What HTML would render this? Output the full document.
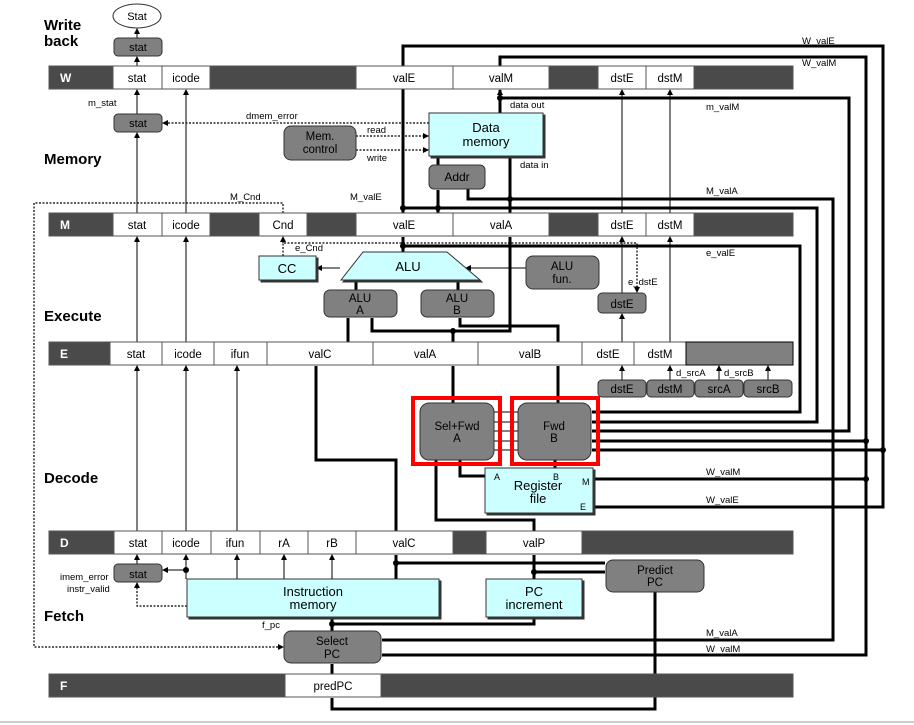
<!DOCTYPE html>
<html><head><meta charset="utf-8"><style>
html,body{margin:0;padding:0;background:#fff;}
svg{display:block;font-family:"Liberation Sans",Arial,sans-serif;}
</style></head><body>
<svg width="914" height="725" viewBox="0 0 914 725" xmlns="http://www.w3.org/2000/svg">
<defs>
<marker id="a" markerWidth="6" markerHeight="6" refX="5" refY="3" orient="auto" markerUnits="userSpaceOnUse"><path d="M0,0 L6,3 L0,6 z" fill="#000"/></marker>
</defs>
<rect width="914" height="725" fill="#fff"/>
<line x1="0" y1="722" x2="914" y2="722" stroke="#ccc" stroke-width="2"/>

<!-- stage labels -->
<g font-weight="bold" font-size="15" fill="#000">
<text x="44" y="30">Write</text><text x="44" y="46">back</text>
<text x="44" y="164">Memory</text>
<text x="44" y="321">Execute</text>
<text x="44" y="483">Decode</text>
<text x="44" y="621">Fetch</text>
</g>

<!-- wires (drawn first) -->
<g fill="none" stroke="#000">
<!-- thin -->
<g stroke-width="1">
<line x1="137" y1="38" x2="137" y2="29" marker-end="url(#a)"/>
<line x1="137" y1="66" x2="137" y2="57" marker-end="url(#a)"/>
<line x1="137" y1="114" x2="137" y2="90" marker-end="url(#a)"/>
<line x1="137" y1="213" x2="137" y2="133" marker-end="url(#a)"/>
<line x1="186" y1="213" x2="186" y2="90" marker-end="url(#a)"/>
<line x1="622" y1="213" x2="622" y2="90" marker-end="url(#a)"/>
<line x1="670" y1="213" x2="670" y2="90" marker-end="url(#a)"/>
<line x1="137" y1="342" x2="137" y2="237" marker-end="url(#a)"/>
<line x1="186" y1="342" x2="186" y2="237" marker-end="url(#a)"/>
<line x1="622" y1="293" x2="622" y2="237" marker-end="url(#a)"/>
<line x1="670" y1="342" x2="670" y2="237" marker-end="url(#a)"/>
<line x1="622" y1="342" x2="622" y2="314" marker-end="url(#a)"/>
<line x1="340" y1="268" x2="317" y2="268" marker-end="url(#a)"/>
<line x1="526" y1="268" x2="466" y2="268" marker-end="url(#a)"/>
<line x1="137" y1="531" x2="137" y2="366" marker-end="url(#a)"/>
<line x1="186" y1="531" x2="186" y2="366" marker-end="url(#a)"/>
<line x1="237" y1="531" x2="237" y2="366" marker-end="url(#a)"/>
<line x1="622" y1="380" x2="622" y2="366" marker-end="url(#a)"/>
<line x1="670" y1="380" x2="670" y2="366" marker-end="url(#a)"/>
<line x1="719" y1="380" x2="719" y2="366" marker-end="url(#a)"/>
<line x1="768" y1="380" x2="768" y2="366" marker-end="url(#a)"/>
<line x1="137" y1="564" x2="137" y2="555" marker-end="url(#a)"/>
<line x1="186" y1="579" x2="186" y2="555" marker-end="url(#a)"/>
<line x1="186" y1="570" x2="163" y2="570" marker-end="url(#a)"/>
<line x1="237" y1="579" x2="237" y2="555" marker-end="url(#a)"/>
<line x1="284" y1="579" x2="284" y2="555" marker-end="url(#a)"/>
<line x1="332" y1="579" x2="332" y2="555" marker-end="url(#a)"/>
<line x1="494" y1="412" x2="518" y2="412"/><line x1="494" y1="422" x2="518" y2="422"/><line x1="494" y1="431" x2="518" y2="431"/><line x1="494" y1="441" x2="518" y2="441"/><line x1="494" y1="450" x2="518" y2="450"/>
</g>
<!-- dotted -->
<g stroke-width="1.2" stroke-dasharray="2,1.5">
<line x1="429" y1="123" x2="163" y2="123" marker-end="url(#a)"/>
<line x1="356" y1="136" x2="428" y2="136" marker-end="url(#a)"/>
<line x1="356" y1="150" x2="428" y2="150" marker-end="url(#a)"/>
<polyline points="283,213 283,203 34,203 34,647 283,647" marker-end="url(#a)"/>
<polyline points="283,256 283,243 637,243 637,292" marker-end="url(#a)"/>
<line x1="283" y1="243" x2="283" y2="237" marker-end="url(#a)"/>
<polyline points="187,606 137,606 137,583" marker-end="url(#a)"/>
</g>
<!-- thick -->
<g stroke-width="3">
<polyline points="403,213 403,46 883,46 883,507 594,507"/>
<polyline points="500,66 500,57 866,57 866,655 382,655"/>
<line x1="500" y1="113" x2="500" y2="90" marker-end="url(#a)"/>
<polyline points="500,98 849,98 849,431 592,431"/>
<line x1="438" y1="213" x2="438" y2="190"/>
<polyline points="468,189 468,199 833,199 833,640 382,640"/>
<line x1="510" y1="213" x2="510" y2="157"/>
<polyline points="403,208 817,208 817,422 592,422"/>
<polyline points="403,246 800,246 800,412 592,412"/>
<line x1="403" y1="252" x2="403" y2="237"/>
<line x1="438" y1="165" x2="438" y2="157"/>
<line x1="356" y1="290" x2="356" y2="280"/>
<line x1="458" y1="290" x2="458" y2="280"/>
<line x1="348" y1="342" x2="348" y2="318"/>
<polyline points="453,342 453,331 372,331 372,318"/>
<polyline points="453,331 510,331 510,237"/>
<polyline points="558,342 558,326 460,326 460,318"/>
<line x1="866" y1="441" x2="592" y2="441"/>
<line x1="883" y1="450" x2="592" y2="450"/>
<line x1="866" y1="479" x2="594" y2="479"/>
<line x1="453" y1="403" x2="453" y2="366"/>
<line x1="558" y1="403" x2="558" y2="366"/>
<polyline points="396,531 396,460 316,460 316,366"/>
<polyline points="460,460 460,476 485,476"/>
<line x1="555" y1="460" x2="555" y2="468"/>
<polyline points="534,531 534,520 436,520 436,460"/>
<line x1="396" y1="579" x2="396" y2="555"/>
<line x1="396" y1="563" x2="605" y2="563"/>
<line x1="534" y1="579" x2="534" y2="555"/>
<line x1="534" y1="572" x2="605" y2="572"/>
<line x1="332" y1="631" x2="332" y2="618"/>
<polyline points="332,624 534,624 534,618"/>
<polyline points="655,592 655,709 332,709 332,698"/>
<line x1="332" y1="674" x2="332" y2="664"/>
</g>
</g>
<!-- dots -->
<g fill="#000">
<circle cx="403" cy="208" r="3"/><circle cx="403" cy="246" r="3"/><circle cx="438" cy="208" r="3"/><circle cx="510" cy="199" r="3"/><circle cx="500" cy="98" r="3"/>
<circle cx="453" cy="331" r="3"/><circle cx="866" cy="441" r="3"/><circle cx="883" cy="450" r="3"/><circle cx="866" cy="479" r="3"/>
<circle cx="186" cy="570" r="3"/><circle cx="396" cy="563" r="3"/><circle cx="534" cy="572" r="3"/><circle cx="332" cy="624" r="3"/>
</g>

<!-- pipeline registers -->
<g stroke="#555" stroke-width="1" font-size="11.5" text-anchor="middle">
<!-- W -->
<rect x="49" y="66" width="744" height="23" fill="#4a4a4a"/>
<g fill="#fff"><rect x="113" y="66" width="49" height="23"/><rect x="162" y="66" width="48" height="23"/><rect x="356" y="66" width="97" height="23"/><rect x="453" y="66" width="96" height="23"/><rect x="598" y="66" width="48" height="23"/><rect x="646" y="66" width="48" height="23"/></g>
<!-- M -->
<rect x="49" y="213" width="744" height="23" fill="#4a4a4a"/>
<g fill="#fff"><rect x="113" y="213" width="49" height="23"/><rect x="162" y="213" width="48" height="23"/><rect x="259" y="213" width="48" height="23"/><rect x="356" y="213" width="97" height="23"/><rect x="453" y="213" width="96" height="23"/><rect x="598" y="213" width="48" height="23"/><rect x="646" y="213" width="48" height="23"/></g>
<!-- E -->
<rect x="49" y="342" width="744" height="23" fill="#4a4a4a"/>
<g fill="#fff"><rect x="110" y="342" width="52" height="23"/><rect x="162" y="342" width="52" height="23"/><rect x="214" y="342" width="53" height="23"/><rect x="267" y="342" width="106" height="23"/><rect x="373" y="342" width="105" height="23"/><rect x="478" y="342" width="104" height="23"/><rect x="582" y="342" width="52" height="23"/><rect x="634" y="342" width="52" height="23"/></g>
<rect x="686" y="342" width="107" height="23" fill="#808080" stroke="#000"/>
<!-- D -->
<rect x="49" y="531" width="744" height="23" fill="#4a4a4a"/>
<g fill="#fff"><rect x="114" y="531" width="48" height="23"/><rect x="162" y="531" width="49" height="23"/><rect x="211" y="531" width="49" height="23"/><rect x="260" y="531" width="48" height="23"/><rect x="308" y="531" width="48" height="23"/><rect x="356" y="531" width="97" height="23"/><rect x="486" y="531" width="96" height="23"/></g>
<!-- F -->
<rect x="49" y="674" width="744" height="23" fill="#4a4a4a"/>
<rect x="285" y="674" width="96" height="23" fill="#fff"/>
</g>
<g font-size="11.5" text-anchor="middle" fill="#000">
<g fill="#fff" font-weight="bold" font-size="12" text-anchor="start"><text x="60" y="82">W</text><text x="60" y="229">M</text><text x="60" y="358">E</text><text x="60" y="547">D</text><text x="60" y="690">F</text></g>
<text x="137" y="82">stat</text><text x="186" y="82">icode</text><text x="404" y="82">valE</text><text x="501" y="82">valM</text><text x="622" y="82">dstE</text><text x="670" y="82">dstM</text>
<text x="137" y="229">stat</text><text x="186" y="229">icode</text><text x="283" y="229">Cnd</text><text x="404" y="229">valE</text><text x="501" y="229">valA</text><text x="622" y="229">dstE</text><text x="670" y="229">dstM</text>
<text x="136" y="358">stat</text><text x="188" y="358">icode</text><text x="240" y="358">ifun</text><text x="320" y="358">valC</text><text x="425" y="358">valA</text><text x="530" y="358">valB</text><text x="608" y="358">dstE</text><text x="660" y="358">dstM</text>
<text x="138" y="547">stat</text><text x="186" y="547">icode</text><text x="235" y="547">ifun</text><text x="284" y="547">rA</text><text x="332" y="547">rB</text><text x="404" y="547">valC</text><text x="534" y="547">valP</text>
<text x="333" y="690">predPC</text>
</g>

<!-- boxes -->
<g stroke="#333" stroke-width="1">
<ellipse cx="137" cy="16" rx="24" ry="12" fill="#fff"/>
<g fill="#808080">
<rect x="114" y="38" width="48" height="18" rx="4"/>
<rect x="114" y="114" width="48" height="18" rx="4"/>
<rect x="284" y="126" width="72" height="34" rx="7"/>
<rect x="429" y="165" width="56" height="24" rx="5"/>
<rect x="526" y="256" width="73" height="33" rx="7"/>
<rect x="324" y="290" width="73" height="27" rx="6"/>
<rect x="421" y="290" width="73" height="27" rx="6"/>
<rect x="598" y="293" width="48" height="20" rx="4"/>
<rect x="598" y="380" width="48" height="17" rx="4"/>
<rect x="647" y="380" width="47" height="17" rx="4"/>
<rect x="695" y="380" width="48" height="17" rx="4"/>
<rect x="744" y="380" width="48" height="17" rx="4"/>
<rect x="420" y="403" width="74" height="57" rx="9"/>
<rect x="518" y="403" width="73" height="57" rx="9"/>
<rect x="114" y="564" width="48" height="18" rx="4"/>
<rect x="606" y="560" width="98" height="32" rx="7"/>
<rect x="284" y="631" width="97" height="32" rx="7"/>
</g>
<g fill="#ccffff" style="filter:drop-shadow(2px 2px 0 #333)">
<rect x="429" y="113" width="114" height="43"/>
<rect x="259" y="256" width="57" height="24"/>
<polygon points="363,252 447,252 480,280 341,280"/>
<rect x="485" y="468" width="108" height="45"/>
<rect x="187" y="579" width="252" height="38"/>
<rect x="486" y="579" width="96" height="38"/>
</g>
</g>
<g fill="none" stroke="#f00" stroke-width="4">
<rect x="413" y="398" width="87" height="66"/>
<rect x="512" y="398" width="86" height="66"/>
</g>

<!-- box texts -->
<g text-anchor="middle" fill="#000" font-size="11.5">
<text x="137" y="20" font-size="11">Stat</text>
<text x="138" y="51" font-size="11">stat</text>
<text x="138" y="127" font-size="11">stat</text>
<text x="320" y="140">Mem.</text><text x="320" y="153">control</text>
<text x="486" y="132" font-size="13">Data</text><text x="486" y="146" font-size="13">memory</text>
<text x="457" y="181" font-size="12">Addr</text>
<text x="287" y="273" font-size="13">CC</text>
<text x="408" y="271" font-size="13">ALU</text>
<text x="562" y="270">ALU</text><text x="562" y="283">fun.</text>
<text x="360" y="302">ALU</text><text x="360" y="314">A</text>
<text x="457" y="302">ALU</text><text x="457" y="314">B</text>
<text x="622" y="308">dstE</text>
<text x="622" y="393">dstE</text><text x="670" y="393">dstM</text><text x="719" y="393">srcA</text><text x="768" y="393">srcB</text>
<text x="457" y="430">Sel+Fwd</text><text x="457" y="442">A</text>
<text x="554" y="430">Fwd</text><text x="554" y="442">B</text>
<text x="538" y="490" font-size="13">Register</text><text x="538" y="503" font-size="13">file</text>
<text x="138" y="578" font-size="11">stat</text>
<text x="313" y="596" font-size="13">Instruction</text><text x="313" y="609" font-size="13">memory</text>
<text x="534" y="596" font-size="13">PC</text><text x="534" y="609" font-size="13">increment</text>
<text x="655" y="574">Predict</text><text x="655" y="586">PC</text>
<text x="332" y="645">Select</text><text x="332" y="658">PC</text>
</g>
<!-- wire labels -->
<g font-size="9.5" fill="#000">
<text x="88" y="106">m_stat</text>
<text x="246" y="119">dmem_error</text>
<text x="367" y="133">read</text><text x="367" y="161">write</text>
<text x="510" y="108">data out</text><text x="520" y="168">data in</text>
<text x="230" y="200">M_Cnd</text><text x="350" y="200">M_valE</text>
<text x="295" y="251">e_Cnd</text>
<text x="706" y="110">m_valM</text><text x="706" y="194">M_valA</text><text x="706" y="256">e_valE</text>
<text x="802" y="44">W_valE</text><text x="802" y="66">W_valM</text>
<text x="628" y="285">e_dstE</text>
<text x="676" y="376">d_srcA</text><text x="724" y="376">d_srcB</text>
<text x="706" y="475">W_valM</text><text x="706" y="503">W_valE</text>
<text x="706" y="636">M_valA</text><text x="706" y="652">W_valM</text>
<text x="60" y="580">imem_error</text><text x="67" y="592">instr_valid</text>
<text x="262" y="628">f_pc</text>
<text x="494" y="480" font-size="9">A</text><text x="553" y="480" font-size="9">B</text><text x="582" y="485" font-size="9">M</text><text x="580" y="510" font-size="9">E</text>
</g>
</svg>
</body></html>
